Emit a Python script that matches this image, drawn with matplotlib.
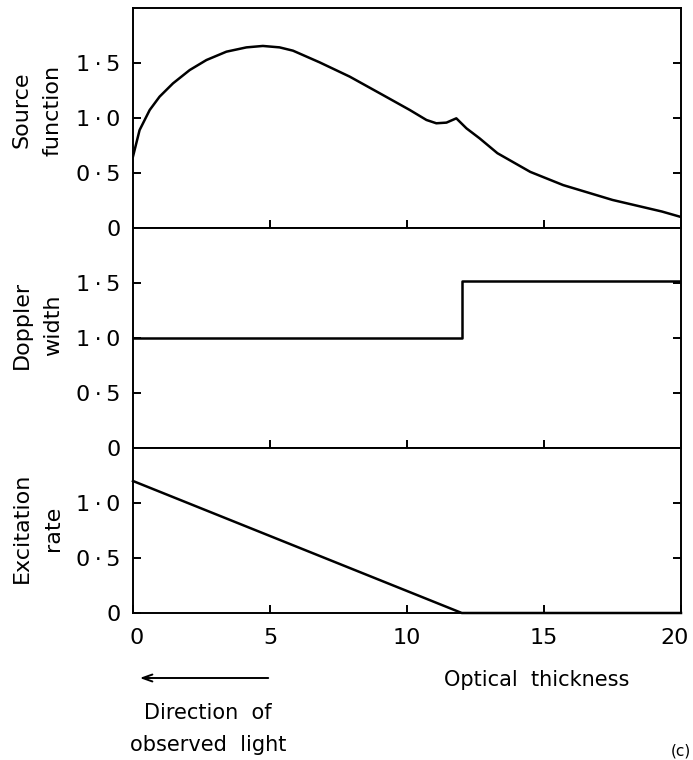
import numpy as np
import matplotlib
matplotlib.use("Agg")
import matplotlib.pyplot as plt
from matplotlib.transforms import ScaledTranslation
from matplotlib.patches import FancyArrowPatch

# Source function
src_x = [0.0, 0.24, 0.61, 0.97, 1.46, 2.07, 2.68, 3.41, 4.14, 4.74, 5.35, 5.84,
         6.81, 7.91, 9.12, 10.1, 10.71, 11.07, 11.44, 11.8, 12.17, 12.65, 13.3,
         14.5, 15.7, 17.5, 19.3, 20.0]
src_y = [0.65, 0.89, 1.073, 1.194, 1.315, 1.436, 1.527, 1.603, 1.642, 1.655, 1.642,
         1.612, 1.506, 1.376, 1.209, 1.073, 0.982, 0.952, 0.958, 0.997, 0.906, 0.815,
         0.68, 0.51, 0.39, 0.255, 0.15, 0.10]

# Doppler width (step at tau = 12)
dop_x = [0.0, 12.0, 20.0]
dop_y = [1.0, 1.52, 1.52]

# Excitation rate
exc_x = [0.0, 12.0, 20.0]
exc_y = [1.2, 0.0, 0.0]

x_ticks = [0, 5, 10, 15, 20]
x_ticklabels = ["0", "5", "10", "15", "20"]
y_ticks = [0, 0.5, 1.0, 1.5]
y_ticklabels = ["0", "0\u2009·\u20095", "1\u2009·\u20090", "1\u2009·\u20095"]

plt.rcParams['font.family'] = ['DejaVu Sans']

W, H = 693, 760
fig = plt.figure(figsize=(W / 100, H / 100), dpi=100)

left = 133 / W
width = 548 / W
lw_ax = 1.4
lw_line = 1.8


def make_axes(top_px, bottom_px, ymax, nticks):
    ax = fig.add_axes([left, 1 - bottom_px / H, width, (bottom_px - top_px) / H])
    ax.set_xlim(0, 20)
    ax.set_ylim(0, ymax)
    for s in ax.spines.values():
        s.set_linewidth(lw_ax)
    ax.set_xticks(x_ticks)
    ax.set_yticks(y_ticks[:nticks])
    ax.set_yticklabels(y_ticklabels[:nticks])
    ax.tick_params(direction='in', length=6, width=lw_ax, right=True,
                   labelsize=16, pad=9)
    ax.tick_params(axis='x', labelbottom=False)
    return ax


ax1 = make_axes(8, 228, 2.0, 4)
ax1.plot(src_x, src_y, color='black', lw=lw_line)

ax2 = make_axes(228, 448, 2.0, 4)
ax2.step(dop_x, dop_y, where='post', color='black', lw=lw_line)

ax3 = make_axes(448, 613, 1.5, 3)
ax3.plot(exc_x, exc_y, color='black', lw=lw_line, clip_on=False)
ax3.set_xticklabels(x_ticklabels)
ax3.tick_params(axis='x', labelbottom=True, pad=11)
# nudge the end labels inwards like in the original
xl = ax3.get_xticklabels()
xl[0].set_transform(xl[0].get_transform() + ScaledTranslation(4 / 100, 0, fig.dpi_scale_trans))
xl[-1].set_transform(xl[-1].get_transform() + ScaledTranslation(-6 / 100, 0, fig.dpi_scale_trans))

# panel labels
lab_kw = dict(rotation=90, ha='center', va='center', fontsize=16,
              multialignment='center', linespacing=1.7)
fig.text(37 / W, 1 - 110 / H, "Source\nfunction", **lab_kw)
fig.text(37 / W, 1 - 325 / H, "Doppler\nwidth", **lab_kw)
fig.text(37 / W, 1 - 528 / H, "Excitation\nrate", **lab_kw)

fig.text(537 / W, 1 - 680 / H, "Optical  thickness", ha='center', va='center',
         fontsize=15)
fig.text(208 / W, 1 - 729 / H, "Direction  of\nobserved  light", ha='center',
         va='center', fontsize=15, linespacing=1.7)
fig.add_artist(FancyArrowPatch(
    (271 / W, 1 - 678 / H), (137 / W, 1 - 678 / H), transform=fig.transFigure,
    arrowstyle='->,head_length=7,head_width=2.5', lw=1.4, color='black'))
fig.text(691 / W, 1 / H, "(c)", ha='right', va='bottom', fontsize=11)

fig.savefig("out.png", dpi=100)
